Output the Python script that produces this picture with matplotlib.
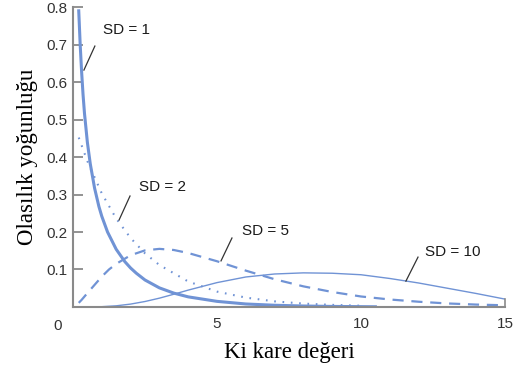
import matplotlib
matplotlib.use('Agg')
import matplotlib.pyplot as plt

# values
x_sd1 = [0.2, 0.25, 0.3, 0.35, 0.4, 0.5, 0.6, 0.75, 0.9, 1.0, 1.2, 1.5, 1.8, 2.0, 2.2, 2.5, 3.0,
         3.5, 4.0, 5.0, 6.0, 7.0, 8.0, 9.0, 10.5]
y_sd1 = [0.79, 0.70, 0.627, 0.566, 0.516, 0.439, 0.382, 0.317, 0.268, 0.242, 0.200, 0.154, 0.121,
         0.104, 0.090, 0.072, 0.051, 0.037, 0.027, 0.015, 0.008, 0.0046, 0.0026, 0.0015, 0.0006]

x_sd2 = [0.2, 0.5, 1.0, 1.5, 2.0, 2.5, 3.0, 4.0, 5.0, 6.0, 7.0, 8.0, 9.0, 10.0]
y_sd2 = [0.452, 0.389, 0.303, 0.236, 0.184, 0.143, 0.112, 0.068, 0.041, 0.025, 0.015, 0.009,
         0.0056, 0.0034]

x_sd5 = [0.2, 0.3, 0.5, 0.75, 1.0, 1.25, 1.5, 2.0, 2.5, 3.0, 3.5, 4.0, 5.0, 6.0, 7.0, 8.0, 9.0,
         10.0, 11.0, 12.0, 13.0, 14.0, 15.0]
y_sd5 = [0.011, 0.019, 0.037, 0.059, 0.081, 0.100, 0.115, 0.138, 0.151, 0.155, 0.152, 0.144,
         0.122, 0.097, 0.074, 0.055, 0.040, 0.028, 0.020, 0.014, 0.0094, 0.0064, 0.0045]

x_sd10 = [0.0, 1.0, 1.5, 2.0, 2.5, 3.0, 3.5, 4.0, 5.0, 6.0, 7.0, 8.0, 9.0, 10.0, 11.0, 12.0,
          13.0, 14.0, 15.0]
y_sd10 = [0.0, 0.0008, 0.0031, 0.0077, 0.0146, 0.0235, 0.034, 0.045, 0.065, 0.080, 0.088, 0.091,
          0.090, 0.086, 0.076, 0.064, 0.050, 0.036, 0.021]

labels = ['SD = 1', 'SD = 2', 'SD = 5', 'SD = 10']
label_pos = [(1.875, 0.739), (3.125, 0.32), (6.67, 0.203), (13.19, 0.147)]
leader_lines = [((0.76, 0.696), (0.38, 0.632)),
                ((1.98, 0.296), (1.60, 0.232)),
                ((5.52, 0.184), (5.14, 0.123)),
                ((11.98, 0.133), (11.56, 0.069))]

x_ticks = [5, 10, 15]
y_ticks = [0.1, 0.2, 0.3, 0.4, 0.5, 0.6, 0.7, 0.8]

blue = '#7093d5'
gray = '#8a8a8a'

fig = plt.figure(figsize=(5.3, 3.73), dpi=100)
ax = fig.add_axes([0.1377, 0.177, 0.8151, 0.804])

ax.plot(x_sd10, y_sd10, color=blue, lw=1.0, solid_capstyle='butt')
ax.plot(x_sd5, y_sd5, color=blue, lw=1.6, dashes=(5, 3.5))
ax.plot(x_sd2, y_sd2, color=blue, lw=1.5, dashes=(0.8, 3.2))
ax.plot(x_sd1, y_sd1, color=blue, lw=2.2)

for txt, (tx, ty), (p0, p1) in zip(labels, label_pos, leader_lines):
    ax.text(tx, ty, txt, ha='center', va='center', fontsize=11,
            family='Liberation Sans', color='#1a1a1a')
    ax.plot([p0[0], p1[0]], [p0[1], p1[1]], color='#333333', lw=0.9)

# short closing line at the right end
ax.plot([15, 15], [0, 0.021], color=gray, lw=1.2, clip_on=False)

ax.set_xlim(0, 15)
ax.set_ylim(0, 0.8)
ax.set_xticks(x_ticks)
ax.set_xticklabels([str(t) for t in x_ticks])
ax.set_yticks(y_ticks)
ax.set_yticklabels(['%.1f' % t for t in y_ticks])
ax.tick_params(axis='y', direction='in', length=7, width=1.3, color=gray,
               labelsize=11, pad=4)
ax.tick_params(axis='x', length=0, labelsize=11, pad=7)
for lab in ax.get_xticklabels() + ax.get_yticklabels():
    lab.set_family('Liberation Sans')
    lab.set_color('#333333')

ax.text(-0.55, -0.05, '0', ha='center', va='center', fontsize=11,
        family='Liberation Sans', color='#333333')

for s in ['top', 'right']:
    ax.spines[s].set_visible(False)
for s in ['left', 'bottom']:
    ax.spines[s].set_color(gray)
    ax.spines[s].set_linewidth(1.5)

ax.set_xlabel('Ki kare değeri', family='Liberation Serif', fontsize=16.5, labelpad=8)
ax.set_ylabel('Olasılık yoğunluğu', family='Liberation Serif', fontsize=16.5, labelpad=6)

fig.savefig('out.png', dpi=100)
